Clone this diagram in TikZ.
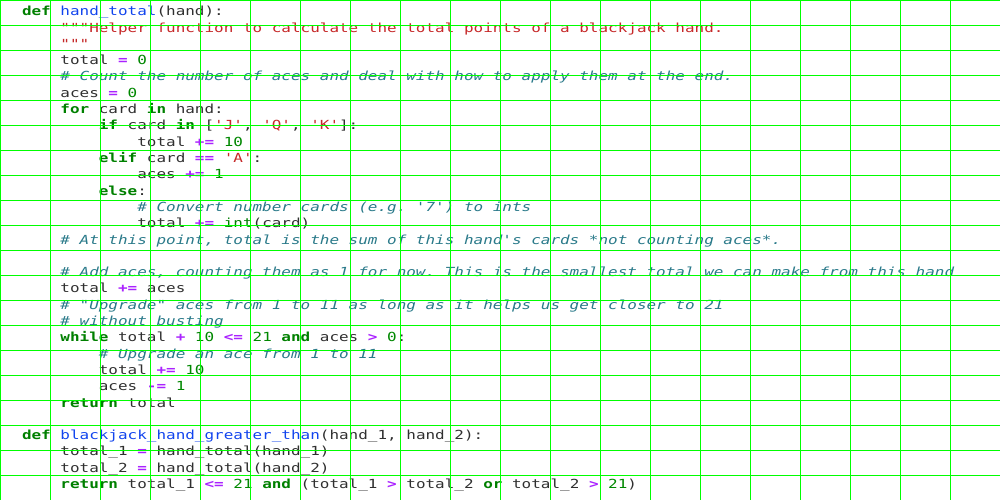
\documentclass[tikz,border=0pt]{standalone}
\usepackage{fontspec}
\setmonofont[FakeStretch=1.277,BoldFont={DejaVu Sans Mono Bold},ItalicFont={DejaVu Sans Mono Oblique}]{DejaVu Sans Mono}
\definecolor{kwc}{HTML}{008000}
\definecolor{defc}{HTML}{1144EE}
\definecolor{strc}{HTML}{C62828}
\definecolor{cmc}{HTML}{2A7A8A}
\definecolor{opc}{HTML}{AA22FF}
\definecolor{numc}{HTML}{008800}
\definecolor{txtc}{HTML}{303030}
\definecolor{gridc}{HTML}{00FF00}
\newcommand\kw[1]{{\color{kwc}\bfseries #1}}
\newcommand\fn[1]{{\color{defc}#1}}
\newcommand\st[1]{{\color{strc}#1}}
\newcommand\cm[1]{{\color{cmc}\itshape #1}}
\newcommand\op[1]{{\color{opc}\bfseries #1}}
\newcommand\nm[1]{{\color{numc}#1}}
\newcommand\bi[1]{{\color{kwc}#1}}
\newcommand\cl[3]{\node[codeline] (L#1) at ({22+#2*9.61},{15.8+(#1-1)*16.3}) {#3};}
\begin{document}
\begin{tikzpicture}[x=1pt,y=-1pt,
  codeline/.style={anchor=base west,inner sep=0pt,outer sep=0pt,text=txtc,
    font=\ttfamily\fontsize{12.5}{16}\selectfont},
  gridline/.style={draw=gridc,line width=1.2pt}]
\useasboundingbox[fill=white] (0,0) rectangle (1000,500);
\cl{1}{0}{\kw{def} \fn{hand\_total}(hand):}
\cl{2}{4}{\st{"""Helper function to calculate the total points of a blackjack hand.}}
\cl{3}{4}{\st{"""}}
\cl{4}{4}{total \op{=} \nm{0}}
\cl{5}{4}{\cm{\# Count the number of aces and deal with how to apply them at the end.}}
\cl{6}{4}{aces \op{=} \nm{0}}
\cl{7}{4}{\kw{for} card \kw{in} hand:}
\cl{8}{8}{\kw{if} card \kw{in} [\st{'J'}, \st{'Q'}, \st{'K'}]:}
\cl{9}{12}{total \op{+=} \nm{10}}
\cl{10}{8}{\kw{elif} card \op{==} \st{'A'}:}
\cl{11}{12}{aces \op{+=} \nm{1}}
\cl{12}{8}{\kw{else}:}
\cl{13}{12}{\cm{\# Convert number cards (e.g. '7') to ints}}
\cl{14}{12}{total \op{+=} \bi{int}(card)}
\cl{15}{4}{\cm{\# At this point, total is the sum of this hand's cards *not counting aces*.}}
\cl{17}{4}{\cm{\# Add aces, counting them as 1 for now. This is the smallest total we can make from this hand}}
\cl{18}{4}{total \op{+=} aces}
\cl{19}{4}{\cm{\# "Upgrade" aces from 1 to 11 as long as it helps us get closer to 21}}
\cl{20}{4}{\cm{\# without busting}}
\cl{21}{4}{\kw{while} total \op{+} \nm{10} \op{<=} \nm{21} \kw{and} aces \op{>} \nm{0}:}
\cl{22}{8}{\cm{\# Upgrade an ace from 1 to 11}}
\cl{23}{8}{total \op{+=} \nm{10}}
\cl{24}{8}{aces \op{-=} \nm{1}}
\cl{25}{4}{\kw{return} total}
\cl{27}{0}{\kw{def} \fn{blackjack\_hand\_greater\_than}(hand\_1, hand\_2):}
\cl{28}{4}{total\_1 \op{=} hand\_total(hand\_1)}
\cl{29}{4}{total\_2 \op{=} hand\_total(hand\_2)}
\cl{30}{4}{\kw{return} total\_1 \op{<=} \nm{21} \kw{and} (total\_1 \op{>} total\_2 \kw{or} total\_2 \op{>} \nm{21})}
\foreach \gx in {0,50,...,950} {\draw[gridline] (\gx+0.6,0) -- (\gx+0.6,500);}
\foreach \gy in {0,25,...,475} {\draw[gridline] (0,\gy+0.6) -- (1000,\gy+0.6);}
\end{tikzpicture}
\end{document}
